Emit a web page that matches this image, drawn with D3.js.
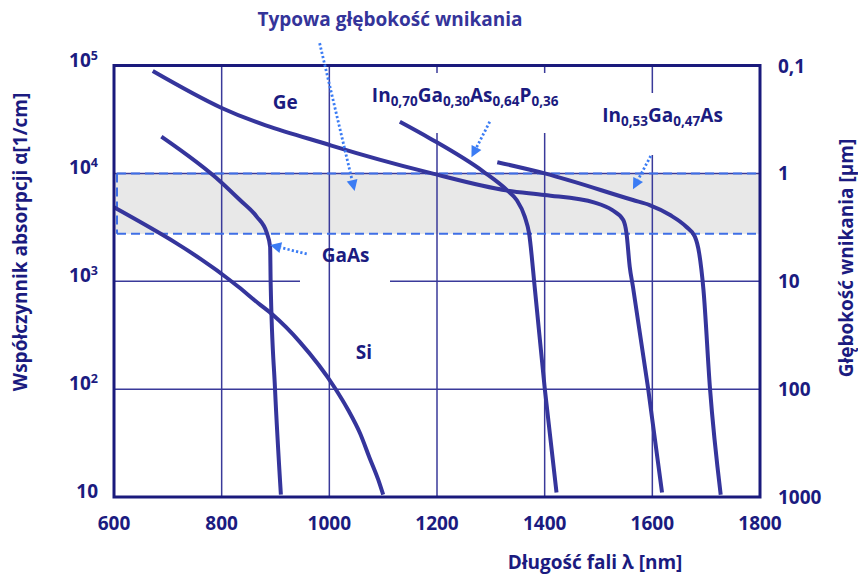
<!DOCTYPE html>
<html><head><meta charset="utf-8">
<script src="https://cdn.jsdelivr.net/npm/d3@7"></script>
<style>
html,body{margin:0;padding:0;background:#fff;}
svg{display:block;font-family:"Open Sans","Noto Sans",sans-serif;font-weight:bold;}
</style></head>
<body><svg id="chart" width="858" height="575"></svg>
<script>
// ---------- data ----------
const xTicks = [600, 800, 1000, 1200, 1400, 1600, 1800];
const xGrid = [800, 1000, 1200, 1400, 1600];
const yTicks = [10, 100, 1000, 10000, 100000];
const yGrid = [100, 1000, 10000];
const yExp = ["", "2", "3", "4", "5"];
const depthTicks = [0.1, 1, 10, 100, 1000];
const depthLabels = ["0,1", "1", "10", "100", "1000"];
const bandAlpha = [2750, 10000];

const geWl    = [672, 800, 1004, 1187, 1331, 1400, 1493, 1525, 1546, 1552, 1558, 1564, 1592, 1618];
const geAlpha = [88900, 40400, 18100, 10100, 6920, 6300, 5350, 4580, 3700, 2790, 1365, 890, 103, 11];

const gaasWl    = [688, 800, 834, 865, 884, 890, 891, 899, 910];
const gaasAlpha = [21900, 8200, 5660, 3970, 2790, 2090, 970, 103, 10.5];

const siWl    = [600, 831, 868, 895, 945, 1010, 1035, 1057, 1075, 1091, 1100];
const siAlpha = [4840, 890, 625, 488, 274, 103, 64, 39, 22.9, 14.4, 10.5];

const ingaaspWl    = [1131, 1187, 1286, 1331, 1348, 1363, 1371, 1382, 1400, 1422];
const ingaaspAlpha = [30100, 21100, 10400, 6920, 5660, 3970, 2790, 830, 103, 11];

const ingaasWl    = [1312, 1400, 1564, 1595, 1633, 1663, 1679, 1687, 1695, 1707, 1727];
const ingaasAlpha = [12700, 10000, 5660, 5090, 4110, 3200, 2590, 1820, 830, 103, 10.5];

// annotation arrows
const arrowFromWl = [982, 1298, 1597, 958];
const arrowFromAlpha = [161000, 30100, 14500, 1790];
const arrowToWl = [1047, 1264, 1564, 890];
const arrowToAlpha = [6870, 14100, 7130, 2170];

// ---------- layout ----------
const svg = d3.select("#chart");
const x = d3.scaleLinear().domain([600, 1800]).range([114, 760]);
const y = d3.scaleLog().domain([10, 100000]).range([497, 65.5]);
const yDepth = d3.scaleLog().domain([1000, 0.1]).range([497, 65.5]);

const NAVY = "#1b1b80";
const CURVE = "#35359c";
const GRID = "#3a3a9a";
const DASH = "#3f6fe6";
const ARROW = "#3b7cf4";
const FS = 19, FSUB = 13.5;

svg.append("rect").attr("x", x(600)).attr("y", y(bandAlpha[1]))
  .attr("width", x(1800) - x(600)).attr("height", y(bandAlpha[0]) - y(bandAlpha[1]))
  .attr("fill", "#e8e8e8");

svg.append("g").selectAll("line").data(yGrid).join("line")
  .attr("x1", x(600)).attr("x2", x(1800))
  .attr("y1", d => y(d)).attr("y2", d => y(d))
  .attr("stroke", GRID).attr("stroke-width", 1.5);

svg.append("rect").attr("x", 300).attr("y", 236).attr("width", 90).attr("height", 48).attr("fill", "#fff");

svg.append("g").selectAll("line").data(xGrid).join("line")
  .attr("x1", d => x(d)).attr("x2", d => x(d))
  .attr("y1", y(1e5)).attr("y2", y(10))
  .attr("stroke", GRID).attr("stroke-width", 1.5);

svg.append("rect").attr("x", 366).attr("y", 73).attr("width", 200).attr("height", 60).attr("fill", "#fff");
svg.append("rect").attr("x", 596).attr("y", 93).attr("width", 132).attr("height", 62).attr("fill", "#fff");

const bandG = svg.append("g").attr("stroke", DASH).attr("stroke-width", 2).attr("stroke-dasharray", "9,5").attr("fill", "none");
bandAlpha.forEach(a => {
  bandG.append("line").attr("x1", x(600) + 3).attr("x2", x(1800)).attr("y1", y(a)).attr("y2", y(a));
});
bandG.append("line").attr("x1", x(600) + 3).attr("x2", x(600) + 3).attr("y1", y(bandAlpha[1])).attr("y2", y(bandAlpha[0]));

const line = d3.line().x(d => x(d[0])).y(d => y(d[1])).curve(d3.curveMonotoneX);
const series = [
  [geWl, geAlpha], [gaasWl, gaasAlpha], [siWl, siAlpha], [ingaaspWl, ingaaspAlpha], [ingaasWl, ingaasAlpha]
];
svg.append("g").selectAll("path").data(series).join("path")
  .attr("d", s => line(s[0].map((w, i) => [w, s[1][i]])))
  .attr("fill", "none").attr("stroke", CURVE).attr("stroke-width", 4).attr("stroke-linejoin", "round");

svg.append("rect").attr("x", x(600)).attr("y", y(1e5)).attr("width", x(1800) - x(600)).attr("height", y(10) - y(1e5))
  .attr("fill", "none").attr("stroke", "#1a1a7c").attr("stroke-width", 3);

const arrG = svg.append("g");
arrowFromWl.forEach((w, i) => {
  const x1 = x(w), y1 = y(arrowFromAlpha[i]), x2 = x(arrowToWl[i]), y2 = y(arrowToAlpha[i]);
  const ang = Math.atan2(y2 - y1, x2 - x1);
  const L = 11, W = 5.5;
  const bx = x2 - L * Math.cos(ang), by = y2 - L * Math.sin(ang);
  arrG.append("line").attr("x1", x1).attr("y1", y1).attr("x2", bx).attr("y2", by)
    .attr("stroke", ARROW).attr("stroke-width", 2.8).attr("stroke-dasharray", "2.2,2.2");
  const px = -Math.sin(ang), py = Math.cos(ang);
  arrG.append("path").attr("d", `M${x2},${y2}L${bx + px * W},${by + py * W}L${bx - px * W},${by - py * W}Z`).attr("fill", ARROW);
});

svg.append("g").selectAll("text").data(xTicks).join("text")
  .attr("x", d => x(d)).attr("y", 530).attr("text-anchor", "middle")
  .attr("font-size", FS).attr("fill", NAVY).text(d => d);

const lt = svg.append("g").selectAll("text").data(yTicks).join("text")
  .attr("x", 98).attr("y", d => y(d) + 1).attr("text-anchor", "end")
  .attr("font-size", FS).attr("fill", NAVY);
lt.append("tspan").text("10");
lt.append("tspan").attr("dy", -7).attr("font-size", 12.5).text((d, i) => yExp[i]);

svg.append("g").selectAll("text").data(depthTicks).join("text")
  .attr("x", 778).attr("y", d => yDepth(d) + 7).attr("text-anchor", "start")
  .attr("font-size", FS).attr("fill", NAVY).text((d, i) => depthLabels[i]);

svg.append("text").attr("transform", "translate(27,242) rotate(-90)").attr("text-anchor", "middle")
  .attr("font-size", FS).attr("fill", NAVY).text("Współczynnik absorpcji α[1/cm]");
svg.append("text").attr("transform", "translate(853,258) rotate(-90)").attr("text-anchor", "middle")
  .attr("font-size", FS).attr("fill", NAVY).text("Głębokość wnikania [µm]");
svg.append("text").attr("x", 595).attr("y", 569).attr("text-anchor", "middle")
  .attr("font-size", FS).attr("fill", NAVY).text("Długość fali λ [nm]");
svg.append("text").attr("x", 390).attr("y", 26).attr("text-anchor", "middle")
  .attr("font-size", FS).attr("fill", "#34349a").text("Typowa głębokość wnikania");

function label(wl, a, parts) {
  const t = svg.append("text").attr("x", x(wl)).attr("y", y(a)).attr("font-size", FS).attr("fill", NAVY);
  parts.forEach(p => {
    if (p[1]) t.append("tspan").attr("font-size", FSUB).attr("dy", 4).text(p[0]);
    else t.append("tspan").attr("font-size", FS).attr("dy", p[2] ? -4 : 0).text(p[0]);
  });
}
label(895, 39500, [["Ge"]]);
label(1049, 190, [["Si"]]);
label(986, 1510, [["GaAs"]]);
label(1079, 45900, [["In"], ["0,70", true], ["Ga", false, true], ["0,30", true], ["As", false, true], ["0,64", true], ["P", false, true], ["0,36", true]]);
label(1507, 29800, [["In"], ["0,53", true], ["Ga", false, true], ["0,47", true], ["As", false, true]]);
</script></body></html>
